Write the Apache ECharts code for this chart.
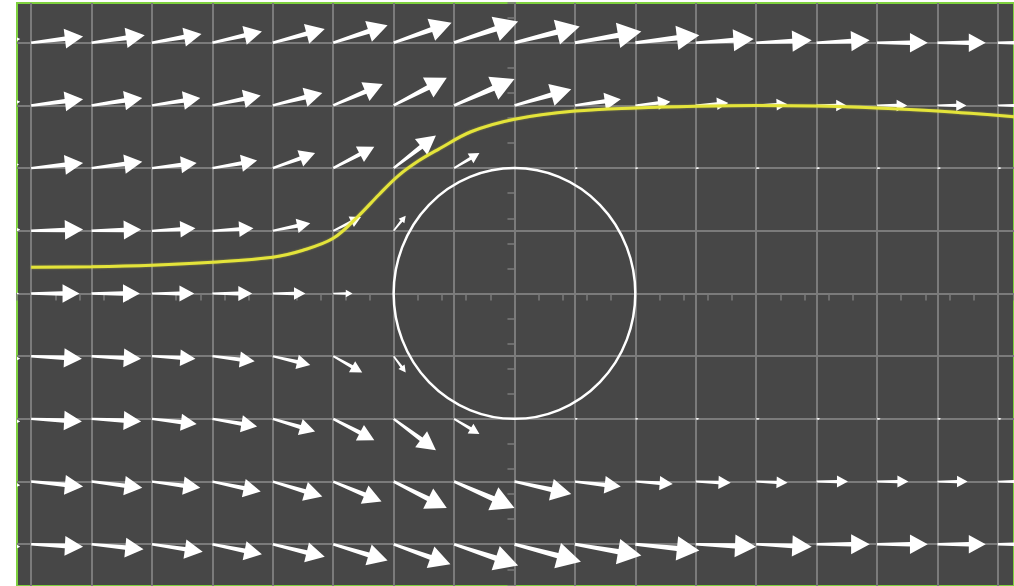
<!DOCTYPE html>
<html>
<head>
<meta charset="utf-8">
<style>
  html, body { margin: 0; padding: 0; background: #fff; }
  #main { width: 1014px; height: 586px; }
</style>
<script src="https://cdn.jsdelivr.net/npm/echarts@6/dist/echarts.min.js"></script>
</head>
<body>
<div id="main"></div>
<script>
// arrow tails sit on the grid nodes
var colX = [-4.5, -4, -3.5, -3, -2.5, -2, -1.5, -1, -0.5, 0, 0.5, 1, 1.5, 2, 2.5, 3, 3.5, 4];
var rowY = [2, 1.5, 1, 0.5, 0, -0.5, -1, -1.5, -2];

// arrow displacement per row (x units, y units)
var du_y20 = [0.41, 0.43, 0.44, 0.41, 0.41, 0.43, 0.45, 0.48, 0.53, 0.54, 0.55, 0.53, 0.48, 0.46, 0.44, 0.42, 0.40, 0.40];
var dv_y20 = [0.03, 0.05, 0.06, 0.07, 0.09, 0.11, 0.14, 0.16, 0.17, 0.13, 0.09, 0.06, 0.03, 0.02, 0.02, 0, 0, 0];
var du_y15 = [0.41, 0.43, 0.42, 0.40, 0.40, 0.41, 0.41, 0.44, 0.50, 0.47, 0.38, 0.29, 0.27, 0.26, 0.25, 0.25, 0.24, 0.24];
var dv_y15 = [0.03, 0.05, 0.06, 0.06, 0.08, 0.10, 0.17, 0.22, 0.21, 0.13, 0.05, 0.03, 0.02, 0.01, 0, 0, 0, 0];
var du_y10 = [0.40, 0.43, 0.42, 0.37, 0.37, 0.35, 0.34, 0.35, 0.21, 0, 0.025, 0.025, 0.03, 0.03, 0.03, 0.03, 0.03, 0.03];
var dv_y10 = [0.03, 0.04, 0.05, 0.04, 0.06, 0.12, 0.17, 0.26, 0.12, 0, 0, 0, 0, 0, 0, 0, 0, 0];
var du_y05 = [0.41, 0.43, 0.41, 0.36, 0.34, 0.31, 0.23, 0.10, 0, 0, 0, 0, 0, 0, 0, 0, 0, 0];
var dv_y05 = [0.01, 0.01, 0.01, 0.02, 0.02, 0.06, 0.11, 0.12, 0, 0, 0, 0, 0, 0, 0, 0, 0, 0];
var du_y00 = [0.40, 0.40, 0.40, 0.35, 0.33, 0.27, 0.16, 0, 0, 0, 0, 0, 0, 0, 0, 0, 0, 0];
var dv_y00 = [0, 0, 0, 0, 0, 0, 0, 0, 0, 0, 0, 0, 0, 0, 0, 0, 0, 0];
var du_m05 = [0.41, 0.42, 0.41, 0.36, 0.35, 0.31, 0.24, 0.10, 0, 0, 0, 0, 0, 0, 0, 0, 0, 0];
var dv_m05 = [-0.02, -0.02, -0.02, -0.02, -0.04, -0.07, -0.13, -0.13, 0, 0, 0, 0, 0, 0, 0, 0, 0, 0];
var du_m10 = [0.41, 0.42, 0.41, 0.37, 0.37, 0.35, 0.34, 0.35, 0.21, 0, 0.025, 0.025, 0.03, 0.03, 0.03, 0.03, 0.03, 0.03];
var dv_m10 = [-0.02, -0.02, -0.02, -0.04, -0.06, -0.10, -0.17, -0.25, -0.12, 0, 0, 0, 0, 0, 0, 0, 0, 0];
var du_m15 = [0.41, 0.43, 0.42, 0.40, 0.40, 0.41, 0.40, 0.44, 0.50, 0.47, 0.38, 0.31, 0.29, 0.26, 0.26, 0.26, 0.25, 0.25];
var dv_m15 = [-0.03, -0.04, -0.05, -0.05, -0.08, -0.12, -0.16, -0.21, -0.21, -0.10, -0.04, -0.02, -0.01, -0.01, 0, 0, 0, 0];
var du_m20 = [0.41, 0.43, 0.43, 0.42, 0.41, 0.43, 0.45, 0.47, 0.53, 0.55, 0.55, 0.53, 0.50, 0.46, 0.44, 0.42, 0.40, 0.40];
var dv_m20 = [-0.02, -0.02, -0.04, -0.06, -0.08, -0.10, -0.13, -0.16, -0.17, -0.14, -0.09, -0.05, -0.02, -0.02, 0, 0, 0, 0];

var duRows = [du_y20, du_y15, du_y10, du_y05, du_y00, du_m05, du_m10, du_m15, du_m20];
var dvRows = [dv_y20, dv_y15, dv_y10, dv_y05, dv_y00, dv_m05, dv_m10, dv_m15, dv_m20];

// the yellow streamline
var streamX = [-4.0, -3.5, -3.0, -2.5, -2.0, -1.75, -1.5, -1.3, -1.12, -0.96, -0.79, -0.63, -0.36, 0.0, 0.5, 1.0, 1.5, 2.0, 2.5, 3.0, 3.5, 4.2];
var streamY = [0.21, 0.214, 0.226, 0.25, 0.29, 0.345, 0.44, 0.61, 0.79, 0.94, 1.06, 1.15, 1.29, 1.39, 1.455, 1.48, 1.494, 1.5, 1.496, 1.48, 1.455, 1.405];

// cylinder: centre x, centre y, radius
var cylinder = [0, 0, 1];

var arrowData = [];
for (var i = 0; i < rowY.length; i++) {
	for (var j = 0; j < colX.length; j++) {
		if (duRows[i][j] === 0 && dvRows[i][j] === 0) continue;
		arrowData.push([colX[j], rowY[i], duRows[i][j], dvRows[i][j]]);
	}
}

var streamData = streamX.map(function(x, k) { return [x, streamY[k]]; });

var GRID_COLOR = '#7b7b7b';

function renderArrow(params, api) {
	var x = api.value(0), y = api.value(1);
	var p0 = api.coord([x, y]);
	var p1 = api.coord([x + api.value(2), y + api.value(3)]);
	var ddx = p1[0] - p0[0], ddy = p1[1] - p0[1];
	var len = Math.sqrt(ddx * ddx + ddy * ddy);
	if (len < 0.5) return;
	var ca = ddx / len, sa = ddy / len;
	var hl = len * 0.35;
	var hw = len * 0.19;
	var sw0 = 0.5 + len * 0.014;
	var sw1 = 0.7 + len * 0.03;
	var local = [[0, -sw0], [len - hl, -sw1], [len - hl, -hw], [len, 0], [len - hl, hw], [len - hl, sw1], [0, sw0]];
	var pts = local.map(function(p) {
		return [p0[0] + p[0] * ca - p[1] * sa, p0[1] + p[0] * sa + p[1] * ca];
	});
	return {
		type: 'polygon',
		shape: { points: pts },
		style: { fill: '#ffffff' }
	};
}

function renderCylinder(params, api) {
	var c = api.coord([api.value(0), api.value(1)]);
	var s = api.size([api.value(2), api.value(2)]);
	return {
		type: 'path',
		shape: {
			pathData: 'M0,1A1,1,0,1,1,2,1A1,1,0,1,1,0,1Z',
			layout: 'cover',
			x: c[0] - s[0], y: c[1] - s[1], width: 2 * s[0], height: 2 * s[1]
		},
		style: { fill: 'none', stroke: '#ffffff', lineWidth: 2.5 }
	};
}

var xMin = -4.117, xMax = 4.134, yMin = -2.333, yMax = 2.317;

var myChart = echarts.init(document.getElementById('main'));
myChart.setOption({
	animation: false,
	backgroundColor: '#ffffff',
	grid: {
		left: 17, top: 3, right: -3, bottom: -3,
		show: true,
		backgroundColor: '#474747',
		borderColor: '#7fd13f',
		borderWidth: 2
	},
	xAxis: [{
		// grid lines every 0.5
		type: 'value', min: xMin, max: xMax, minInterval: 0.5, maxInterval: 0.5,
		axisLine: { show: false }, axisTick: { show: false }, axisLabel: { show: false },
		splitLine: { show: true, showMinLine: false, showMaxLine: false, lineStyle: { color: GRID_COLOR, width: 2 } }
	}, {
		// small ticks every 0.2 along y = 0
		type: 'value', min: xMin, max: xMax, minInterval: 0.2, maxInterval: 0.2,
		axisLine: { show: true, onZero: true, lineStyle: { color: GRID_COLOR, width: 2 } },
		axisTick: { show: true, inside: true, length: 7, lineStyle: { color: GRID_COLOR, width: 1.5 } },
		axisLabel: { show: false }, splitLine: { show: false }
	}],
	yAxis: [{
		type: 'value', min: yMin, max: yMax, minInterval: 0.5, maxInterval: 0.5,
		axisLine: { show: false }, axisTick: { show: false }, axisLabel: { show: false },
		splitLine: { show: true, showMinLine: false, showMaxLine: false, lineStyle: { color: GRID_COLOR, width: 2 } }
	}, {
		type: 'value', min: yMin, max: yMax, minInterval: 0.2, maxInterval: 0.2,
		axisLine: { show: true, onZero: true, lineStyle: { color: GRID_COLOR, width: 2 } },
		axisTick: { show: true, inside: true, length: 7, lineStyle: { color: GRID_COLOR, width: 1.5 } },
		axisLabel: { show: false }, splitLine: { show: false }
	}],
	series: [{
		type: 'custom',
		name: 'velocity',
		xAxisIndex: 0, yAxisIndex: 0,
		clip: true,
		renderItem: renderArrow,
		data: arrowData,
		z: 3
	}, {
		type: 'custom',
		name: 'cylinder',
		xAxisIndex: 0, yAxisIndex: 0,
		renderItem: renderCylinder,
		data: [cylinder],
		z: 4
	}, {
		type: 'line',
		name: 'streamline',
		xAxisIndex: 0, yAxisIndex: 0,
		data: streamData,
		smooth: 0.35,
		showSymbol: false,
		symbol: 'none',
		lineStyle: { color: '#e4e43a', width: 3, shadowColor: 'rgba(230,230,60,0.5)', shadowBlur: 2 },
		z: 5
	}]
});
</script>
</body>
</html>
